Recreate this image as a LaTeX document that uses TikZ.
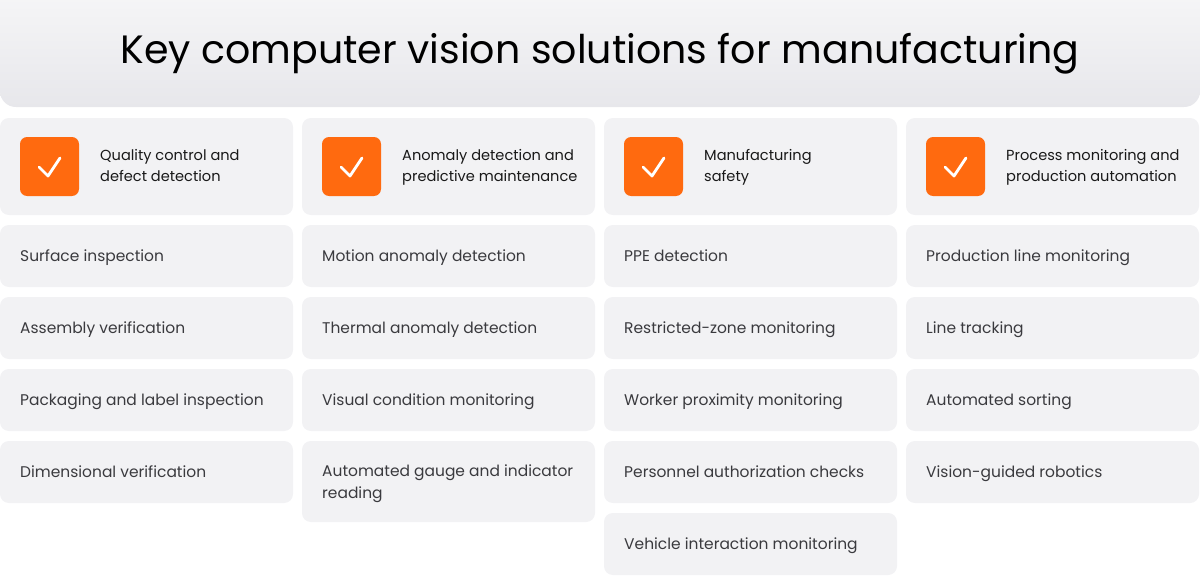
\documentclass[tikz,border=0pt]{standalone}
\usepackage{fontspec}
\setmainfont{Poppins}
\usetikzlibrary{positioning}
\definecolor{cardgray}{HTML}{F2F2F4}
\definecolor{topgray}{HTML}{E7E7EB}
\definecolor{checkorange}{HTML}{FF6A0F}
\definecolor{textdark}{HTML}{3A3A3E}
\tikzset{
  card/.style={fill=cardgray,rounded corners=5pt},
  itemtext/.style={anchor=base west,text=textdark,font=\fontsize{8.8}{12.5}\selectfont,align=left},
  headtext/.style={anchor=base west,text=black!90,font=\fontsize{8.3}{11.5}\selectfont,align=left},
  checkbox/.style={fill=checkorange,rounded corners=4pt}
}
\begin{document}
\begin{tikzpicture}[x=0.02cm,y=-0.02cm]
    \useasboundingbox (0,0) rectangle (1200,575);
    % title bar
    \shade[top color=cardgray!60,bottom color=topgray,rounded corners=9pt](0,-20) rectangle (1200,107);
    \node (title) at (600,54) {\fontsize{22.5}{27}\selectfont Key computer vision solutions for manufacturing};
    % header cards
    \foreach \col/\head in {0/{Quality control and\\defect detection},
        1/{Anomaly detection and\\predictive maintenance},
        2/{Manufacturing\\safety},
        3/{Process monitoring and\\production automation}}{
      \pgfmathsetmacro\xl{\col*302}
      \fill[card](\xl,118) rectangle ++(293,97);
      \fill[checkbox](\xl+20,137) rectangle ++(59,59);
      \draw[white,line width=1.6pt,line cap=round,line join=round](\xl+39,167)--(\xl+48,176)--(\xl+60,158);
      \node[headtext] (head\col) at (\xl+94,181) {\head};
    }
    % items
    \foreach \col/\row/\item/\h/\bl in {
        0/0/{Surface inspection}/62/36, 0/1/{Assembly verification}/62/36,
        0/2/{Packaging and label inspection}/62/36, 0/3/{Dimensional verification}/62/36,
        1/0/{Motion anomaly detection}/62/36, 1/1/{Thermal anomaly detection}/62/36,
        1/2/{Visual condition monitoring}/62/36, 1/3/{Automated gauge and indicator\\reading}/81/57,
        2/0/{PPE detection}/62/36, 2/1/{Restricted-zone monitoring}/62/36,
        2/2/{Worker proximity monitoring}/62/36, 2/3/{Personnel authorization checks}/62/36,
        2/4/{Vehicle interaction monitoring}/62/36,
        3/0/{Production line monitoring}/62/36, 3/1/{Line tracking}/62/36,
        3/2/{Automated sorting}/62/36, 3/3/{Vision-guided robotics}/62/36}{
      \pgfmathsetmacro\xl{\col*302}
      \pgfmathsetmacro\yt{225+\row*72}
      \fill[card](\xl,\yt) rectangle ++(293,\h);
      \node[itemtext] (item\col\row) at (\xl+14,\yt+\bl) {\item};
    }
\end{tikzpicture}
\end{document}
